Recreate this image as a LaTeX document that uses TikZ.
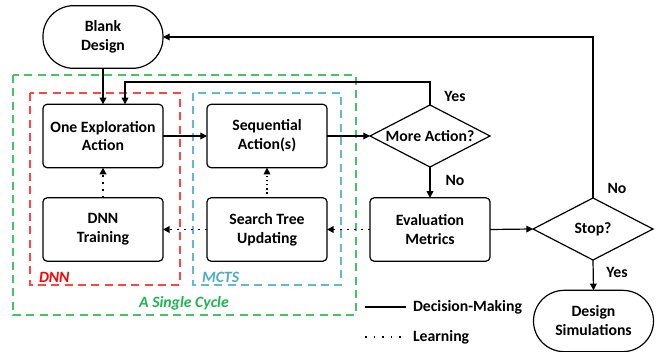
\documentclass[tikz,border=0pt]{standalone}
\usepackage{fontspec}
\setmainfont{Carlito}
\usetikzlibrary{shapes.geometric,arrows.meta}
\definecolor{lgreen}{RGB}{70,195,100}
\definecolor{tgreen}{RGB}{30,180,80}
\definecolor{lred}{RGB}{255,70,70}
\definecolor{tred}{RGB}{255,0,0}
\definecolor{lblue}{RGB}{100,185,210}
\definecolor{tblue}{RGB}{75,172,198}
\tikzset{
  boxnode/.style={draw, line width=0.9pt, rounded corners=3pt, minimum width=90pt, minimum height=47.5pt, inner sep=0pt, outer sep=0pt, align=center},
  pill/.style={draw, line width=0.9pt, rounded corners=23pt, minimum width=90pt, minimum height=47pt, inner sep=0pt, outer sep=0pt, align=center},
  decis/.style={draw, diamond, line width=0.9pt, minimum width=90pt, minimum height=46.5pt, inner sep=0pt, outer sep=0pt},
  flow/.style={line width=0.9pt, -{Triangle[length=5pt,width=5pt]}},
  learn/.style={line width=1.4pt, dash pattern=on 1.4pt off 3.8pt, -{Triangle[length=5pt,width=5pt]}},
  learnthin/.style={line width=0.9pt, dash pattern=on 0.9pt off 2.2pt, -{Triangle[length=5pt,width=5pt]}},
  region/.style={line width=1.1pt, dash pattern=on 6pt off 4pt},
  lab/.style={inner sep=0pt, outer sep=0pt},
  itlab/.style={lab, font=\bfseries\itshape\fontsize{11.8}{14.2}\selectfont}
}
\begin{document}
\begin{tikzpicture}[x=0.75pt,y=-0.75pt, font=\bfseries\fontsize{11.8}{14.2}\selectfont]
\useasboundingbox (0,0) rectangle (660,352);

% regions
\draw[region, lgreen] (13,75) rectangle (356,315);
\draw[region, lred] (30,93) rectangle (180,285);
\draw[region, lblue] (193,93) rectangle (341,285);
\node[itlab, text=tred, anchor=west] (ldnn) at (39,277) {DNN};
\node[itlab, text=tblue, anchor=west] (lmcts) at (202,277) {MCTS};
\node[itlab, text=tgreen] (lcyc) at (184,303) {A Single Cycle};

% nodes
\node[pill] (bd) at (103,37) {Blank\\Design};
\node[boxnode] (oe) at (103,136) {One Exploration\\Action};
\node[boxnode] (sa) at (267,136) {Sequential\\Action(s)};
\node[decis] (ma) at (430,136) {};
\node[lab] (matxt) at (ma) {More Action?};
\node[boxnode] (dnn) at (103,229.5) {DNN\\Training};
\node[boxnode] (stu) at (267,229.5) {Search Tree\\Updating};
\node[boxnode] (ev) at (430,229.5) {Evaluation\\Metrics};
\node[decis] (st) at (593,229) {};
\node[lab] (sttxt) at (st) {Stop?};
\node[pill, minimum height=46pt] (ds) at (593.5,321) {Design\\Simulations};

% decision flow
\draw[flow] (bd.south) -- (oe.north);
\coordinate (lp) at (125,82);
\draw[flow] (ma.north) |- (lp) -- (lp |- oe.north);
\draw[flow] (oe.east) -- (sa.west);
\draw[flow] (sa.east) -- (ma.west);
\draw[flow] (ma.south) -- (ev.north);
\draw[flow] (ev.east) -- (st.west);
\draw[flow] (st.north) |- (bd.east);
\draw[flow] (st.south) -- (ds.north);

\node[lab] (yes1) at (455,96) {Yes};
\node[lab] (no1) at (455,180) {No};
\node[lab] (no2) at (617,188) {No};
\node[lab] (yes2) at (617,272) {Yes};

% learning flow
\draw[learn] (ev.west) -- (stu.east);
\draw[learn] (stu.west) -- (dnn.east);
\draw[learn] (dnn.north) -- (oe.south);
\draw[learnthin] (stu.north) -- (sa.south);

% legend
\coordinate (la) at (365,307);
\coordinate (lb) at (406,307);
\coordinate (lc) at (365,337);
\coordinate (ld) at (406,337);
\draw[line width=0.9pt] (la) -- (lb);
\draw[line width=1.4pt, dash pattern=on 1.4pt off 5pt] (lc) -- (ld);
\node[lab, anchor=west] (dm) at (413,307) {Decision-Making};
\node[lab, anchor=west] (lr) at (413,337) {Learning};
\end{tikzpicture}
\end{document}
